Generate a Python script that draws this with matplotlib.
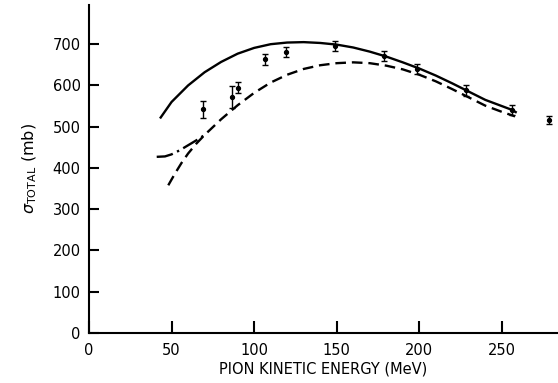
import matplotlib
matplotlib.use("Agg")
import matplotlib.pyplot as plt

# Data points (pion kinetic energy in MeV, total cross section in mb)
pts_x = [69.2, 86.4, 90.0, 106.7, 119.0, 148.7, 178.6, 198.4, 228.0, 256.2, 278.6]
pts_y = [542, 572, 595, 663, 681, 695, 671, 639, 588, 540, 517]
pts_err = [20, 26, 14, 14, 12, 12, 12, 12, 14, 12, 10]

# Solid curve
solid_x = [43, 50, 60, 70, 80, 90, 100, 110, 120, 130, 140, 150, 160, 170, 180,
           190, 200, 210, 220, 230, 240, 250, 256, 259]
solid_y = [520, 560, 600, 632, 657, 677, 691, 700, 704, 705, 703, 699, 692, 682,
           670, 656, 641, 624, 605, 585, 565, 550, 541, 534]

# Dashed curve
dash_x = [48, 52, 56, 60, 65, 70, 80, 90, 100, 110, 120, 130, 140, 150, 160, 170,
          180, 190, 200, 210, 220, 230, 240, 250, 258]
dash_y = [358, 386, 412, 435, 459, 480, 518, 552, 582, 607, 626, 640, 649, 654,
          656, 654, 648, 639, 626, 610, 591, 571, 551, 536, 525]

# Dash-dot curve
dd_x = [41, 46, 50, 55, 60, 65, 70]
dd_y = [427, 428, 433, 443, 455, 467, 480]

xticks = [0, 50, 100, 150, 200, 250]
yticks = [0, 100, 200, 300, 400, 500, 600, 700]

fig = plt.figure(figsize=(5.58, 3.83), dpi=100)
ax = fig.add_axes([89 / 558, 50 / 383, (558 - 89) / 558, 328 / 383])

ax.plot(solid_x, solid_y, color="black", lw=1.7, solid_capstyle="butt")
ax.plot(dash_x, dash_y, color="black", lw=1.7, dashes=(4.5, 2.5))
ax.plot(dd_x, dd_y, color="black", lw=1.7, dashes=(7, 2, 1, 2))
ax.errorbar(pts_x, pts_y, yerr=pts_err, fmt="o", ms=2.8, color="black",
            ecolor="black", elinewidth=1.0, capsize=2.2, capthick=1.0)

ax.set_xlim(0, 284)
ax.set_ylim(0, 795)
for s in ["top", "right"]:
    ax.spines[s].set_visible(False)
for s in ["left", "bottom"]:
    ax.spines[s].set_linewidth(1.5)

ax.set_xticks(xticks)
ax.set_yticks(yticks)
ax.tick_params(axis="x", direction="in", length=9, width=1.5, labelsize=10.5, pad=7)
ax.tick_params(axis="y", direction="in", length=7, width=1.5, labelsize=10.5, pad=6)

ax.set_xlabel("PION KINETIC ENERGY (MeV)", fontsize=10.5, labelpad=3)
ax.set_ylabel(r"$\sigma_{\mathrm{TOTAL}}$ (mb)", fontsize=11.5, labelpad=10)

fig.savefig("out.png", dpi=100)
